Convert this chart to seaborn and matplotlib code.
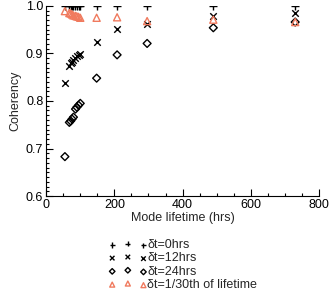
import numpy as np
import pandas as pd
import matplotlib
matplotlib.use('Agg')
import matplotlib.pyplot as plt
from matplotlib.ticker import MultipleLocator
import seaborn as sns

# ── Data ──────────────────────────────────────────────────────────────────────
lifetime = [55, 68, 72, 76, 80, 86, 90, 95, 100, 148, 208, 296, 490, 730]
coh_0hrs = [1.0] * len(lifetime)
coh_12hrs = [0.838, 0.874, 0.879, 0.883, 0.887, 0.891, 0.894, 0.897, 0.899,
             0.925, 0.951, 0.961, 0.979, 0.985]
coh_24hrs = [0.683, 0.755, 0.758, 0.762, 0.766, 0.783, 0.787, 0.791, 0.795,
             0.848, 0.897, 0.921, 0.954, 0.966]
coh_30th = [0.989, 0.985, 0.984, 0.982, 0.980, 0.979, 0.978, 0.977, 0.975,
            0.975, 0.976, 0.968, 0.971, 0.966]

series_labels = ['\u03b4t=0hrs', '\u03b4t=12hrs', '\u03b4t=24hrs',
                 '\u03b4t=1/30th of lifetime']

df = pd.concat([
    pd.DataFrame({'lifetime': lifetime, 'coh': v, 'series': lab})
    for v, lab in zip([coh_0hrs, coh_12hrs, coh_24hrs, coh_30th], series_labels)
], ignore_index=True)

# ── Style ──────────────────────────────────────────────────────────────────────
sns.set_style('ticks')
plt.rcParams['font.family'] = ['Liberation Sans', 'DejaVu Sans']
plt.rcParams['font.size'] = 9
SALMON = '#F07A5E'

fig = plt.figure(figsize=(3.32, 2.94), dpi=100)
ax = fig.add_axes([0.139, 0.333, 0.822, 0.647])

styles = {
    series_labels[0]: dict(marker='+', color='black', s=30, linewidth=1.0),
    series_labels[1]: dict(marker='x', color='black', s=22, linewidth=1.0),
    series_labels[2]: dict(marker='D', facecolor='none', edgecolor='black',
                           s=16, linewidth=1.0),
    series_labels[3]: dict(marker='^', facecolor='none', edgecolor=SALMON,
                           s=26, linewidth=1.0),
}
for lab in series_labels:
    sub = df[df['series'] == lab]
    sns.scatterplot(data=sub, x='lifetime', y='coh', ax=ax, label=lab,
                    **styles[lab])

ax.set_xlim(0, 800)
ax.set_ylim(0.6, 1.0)
ax.xaxis.set_major_locator(MultipleLocator(200))
ax.xaxis.set_minor_locator(MultipleLocator(50))
ax.yaxis.set_major_locator(MultipleLocator(0.1))
ax.yaxis.set_minor_locator(MultipleLocator(0.01))
ax.tick_params(which='both', direction='in', width=0.8, colors='black',
               labelsize=9, pad=2)
ax.tick_params(which='major', length=5)
ax.tick_params(which='minor', length=2.5)
sns.despine(ax=ax)
for sp in ['left', 'bottom']:
    ax.spines[sp].set_linewidth(0.8)
    ax.spines[sp].set_color('black')

ax.set_xlabel('Mode lifetime (hrs)', fontsize=9, labelpad=1)
ax.set_ylabel('Coherency', fontsize=9, labelpad=3)

ax.legend(loc='upper left', bbox_to_anchor=(0.21, -0.2), frameon=False,
          scatterpoints=3, markerscale=0.7, fontsize=9, handlelength=3.1,
          handletextpad=0.0, labelspacing=0.1, borderaxespad=0)

fig.savefig('out.png', dpi=100)
plt.close()
